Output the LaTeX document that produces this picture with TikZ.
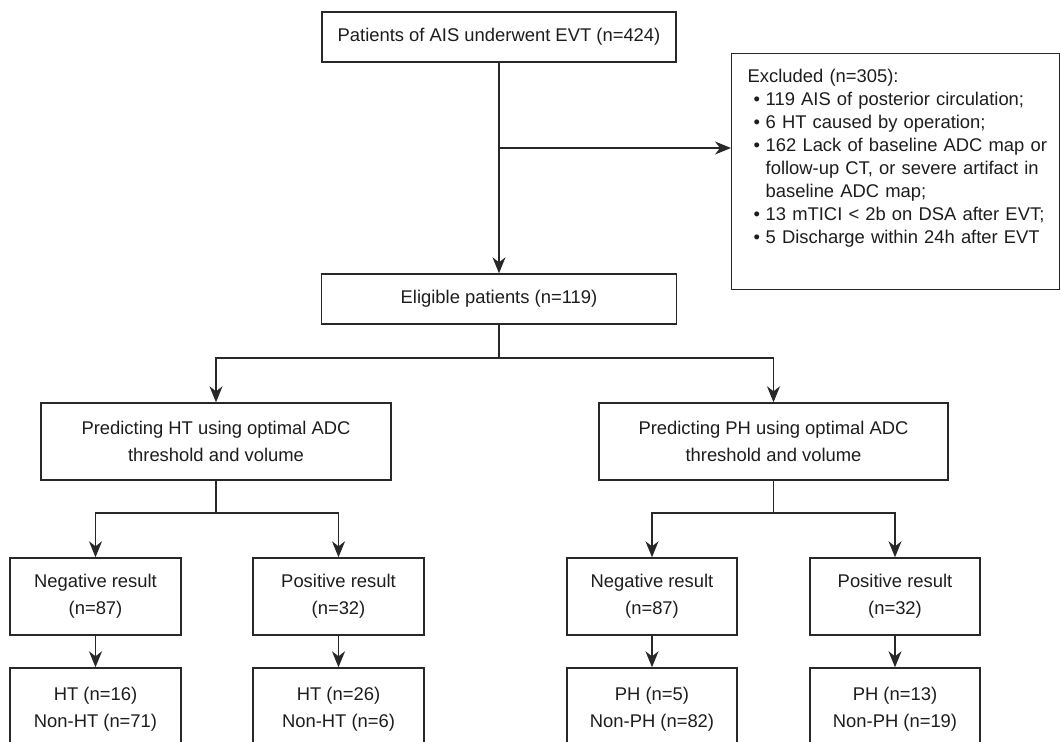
\documentclass[tikz,border=0pt]{standalone}
\usepackage{fontspec}
\setmainfont{Liberation Sans}
\usetikzlibrary{arrows.meta}
\definecolor{lncol}{RGB}{40,40,40}
\definecolor{txcol}{RGB}{30,28,28}
\newcommand{\blt}{\makebox[18bp][l]{\hspace*{6bp}\textbullet}}
\begin{document}
\begin{tikzpicture}[x=1bp,y=-1bp,
  box/.style={draw=lncol, line width=1.4bp, inner sep=0pt, text=txcol, align=center,
    font=\fontsize{18.4bp}{27bp}\selectfont},
  conn/.style={draw=lncol, line width=1.4bp},
  arr/.style={conn, -{Stealth[length=16bp,width=13bp,inset=5bp]}}]
\useasboundingbox (0,0) rectangle (1061,742);
\clip (0,0) rectangle (1061,742);

% main column
\node[box, minimum width=354bp, minimum height=50bp] (top) at (499,37) {Patients of AIS underwent EVT (n=424)};
\node[box, minimum width=355bp, minimum height=50bp] (elig) at (499,299) {Eligible patients (n=119)};

\node[box, align=left, anchor=north west, minimum height=236bp, inner xsep=16bp, text width=296bp,
  font=\fontsize{18.4bp}{23.1bp}\selectfont] (excl) at (731,53) {%
\begin{tabular}{@{}l@{}l@{}}
\multicolumn{2}{@{}l@{}}{Excluded (n=305):}\\
\blt & 119 AIS of posterior circulation;\\
\blt & 6 HT caused by operation;\\
\blt & 162 Lack of baseline ADC map or\\
 & follow-up CT, or severe artifact in\\
 & baseline ADC map;\\
\blt & 13 mTICI < 2b on DSA after EVT;\\
\blt & 5 Discharge within 24h after EVT\rule[-33.3bp]{0pt}{0pt}
\end{tabular}};

% prediction boxes
\node[box, minimum width=350bp, minimum height=77bp] (predHT) at (216,441.5) {Predicting HT using optimal ADC\\threshold and volume};
\node[box, minimum width=349bp, minimum height=77bp] (predPH) at (773.5,441.5) {Predicting PH using optimal ADC\\threshold and volume};

% result boxes
\node[box, minimum width=171bp, minimum height=77bp] (negHT) at (95.5,596.5) {Negative result\\(n=87)};
\node[box, minimum width=171bp, minimum height=77bp] (posHT) at (338.5,596.5) {Positive result\\(n=32)};
\node[box, minimum width=170bp, minimum height=77bp] (negPH) at (652,596.5) {Negative result\\(n=87)};
\node[box, minimum width=170bp, minimum height=77bp] (posPH) at (895,596.5) {Positive result\\(n=32)};

% outcome boxes (cut off at the bottom)
\node[box, minimum width=171bp, minimum height=83bp] (negHTo) at (95.5,709.5) {HT (n=16)\\Non-HT (n=71)};
\node[box, minimum width=171bp, minimum height=83bp] (posHTo) at (338.5,709.5) {HT (n=26)\\Non-HT (n=6)};
\node[box, minimum width=170bp, minimum height=83bp] (negPHo) at (652,709.5) {PH (n=5)\\Non-PH (n=82)};
\node[box, minimum width=170bp, minimum height=83bp] (posPHo) at (895,709.5) {PH (n=13)\\Non-PH (n=19)};

% connectors
\coordinate (j1) at (499,148);
\coordinate (j2) at (499,358);
\coordinate (j3) at (216,513);
\coordinate (j4) at (773.5,513);

\draw[arr] (top.south) -- (elig.north);
\draw[arr] (j1) -- (j1 -| excl.west);

\draw[conn] (elig.south) -- (j2);
\draw[arr] (j2) -| (predHT.north);
\draw[arr] (j2) -| (predPH.north);

\draw[conn] (predHT.south) -- (j3);
\draw[arr] (j3) -| (negHT.north);
\draw[arr] (j3) -| (posHT.north);

\draw[conn] (predPH.south) -- (j4);
\draw[arr] (j4) -| (negPH.north);
\draw[arr] (j4) -| (posPH.north);

\draw[arr] (negHT.south) -- (negHTo.north);
\draw[arr] (posHT.south) -- (posHTo.north);
\draw[arr] (negPH.south) -- (negPHo.north);
\draw[arr] (posPH.south) -- (posPHo.north);
\end{tikzpicture}
\end{document}
